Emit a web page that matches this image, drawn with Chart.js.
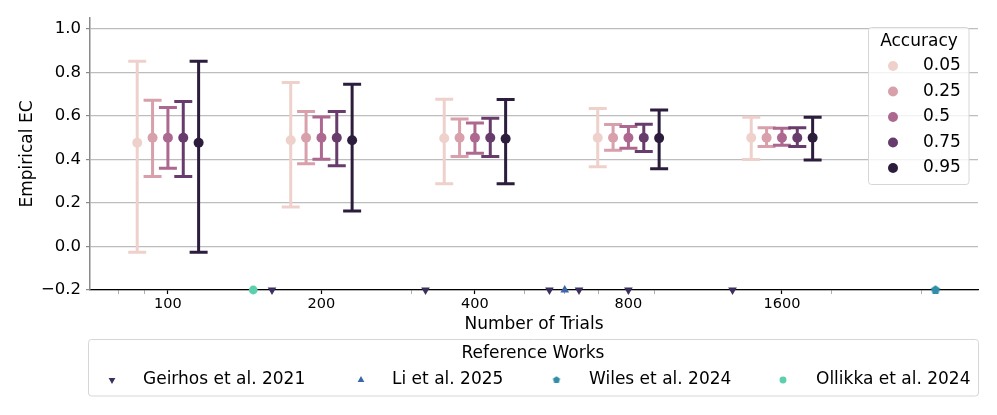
<!DOCTYPE html>
<html>
<head>
<meta charset="utf-8">
<script src="https://cdn.jsdelivr.net/npm/chart.js@4.4.1/dist/chart.umd.min.js"></script>
<style>
  html,body{margin:0;padding:0;background:#fff;}
</style>
</head>
<body>
<canvas id="chart" width="997" height="415"></canvas>
<script>
// Number of trials (x categories) and accuracy levels (hue)
const trials = [100, 200, 400, 800, 1600];
const accuracyLevels = ["0.05", "0.25", "0.5", "0.75", "0.95"];

// mean empirical EC per accuracy level
const mean05 = [0.477, 0.488, 0.497, 0.500, 0.500];
const mean25 = [0.500, 0.500, 0.500, 0.500, 0.500];
const mean50 = [0.500, 0.500, 0.500, 0.500, 0.500];
const mean75 = [0.500, 0.500, 0.500, 0.500, 0.500];
const mean95 = [0.477, 0.488, 0.495, 0.498, 0.500];

// error bar lower / upper ends
const lo05 = [-0.026, 0.182, 0.288, 0.366, 0.400];
const hi05 = [0.851, 0.754, 0.677, 0.634, 0.594];
const lo25 = [0.322, 0.380, 0.414, 0.442, 0.460];
const hi25 = [0.672, 0.620, 0.586, 0.560, 0.546];
const lo50 = [0.360, 0.401, 0.429, 0.451, 0.465];
const hi50 = [0.639, 0.595, 0.568, 0.551, 0.543];
const lo75 = [0.322, 0.371, 0.414, 0.437, 0.460];
const hi75 = [0.666, 0.620, 0.589, 0.562, 0.546];
const lo95 = [-0.026, 0.163, 0.288, 0.357, 0.398];
const hi95 = [0.851, 0.746, 0.676, 0.627, 0.594];

// reference works: trial counts, drawn on the bottom of the axis
const refNames = ["Geirhos et al. 2021", "Li et al. 2025", "Wiles et al. 2024", "Ollikka et al. 2024"];
const geirhosTrials = [160, 320, 560, 640, 800, 1280];
const liTrials = [600];
const wilesTrials = [3200];
const ollikkaTrials = [147];
const refLevel = -0.2;

// ticks
const xMinorTicks = [80, 90, 300, 500, 600, 700, 900, 2000, 3000];
const yTicks = [-0.2, 0.0, 0.2, 0.4, 0.6, 0.8, 1.0];

// colours
const accColors = ["#efd1cc", "#d8a0ab", "#ad6890", "#673c6c", "#2c1d3d"];
const refColors = ["#3b2f5e", "#3b66ab", "#2f8fa8", "#5ccfac"];

Chart.defaults.font.family = "DejaVu Sans";
Chart.defaults.color = "#000";

function pentagon(r, color){
  const c = document.createElement("canvas");
  const s = Math.ceil(r * 2) + 2;
  c.width = s; c.height = s;
  const g = c.getContext("2d");
  g.fillStyle = color;
  g.beginPath();
  for(let i = 0; i < 5; i++){
    const a = -Math.PI / 2 + i * 2 * Math.PI / 5;
    const px = s / 2 + r * Math.cos(a), py = s / 2 + r * Math.sin(a);
    if(i) g.lineTo(px, py); else g.moveTo(px, py);
  }
  g.closePath();
  g.fill();
  return c;
}

const means = [mean05, mean25, mean50, mean75, mean95];
const lows = [lo05, lo25, lo50, lo75, lo95];
const highs = [hi05, hi25, hi50, hi75, hi95];

// dodge the hue levels a little around each trial count (log2 offset)
const accDatasets = accuracyLevels.map((lvl, k) => ({
  label: lvl,
  data: trials.map((t, j) => ({x: t * Math.pow(2, (k - 2) * 0.1), y: means[k][j]})),
  lo: lows[k],
  hi: highs[k],
  backgroundColor: accColors[k],
  pointBackgroundColor: accColors[k],
  pointRadius: 5,
  pointHoverRadius: 5,
  pointBorderWidth: 0,
  showLine: false,
  order: 10 - k
}));

const refSets = [geirhosTrials, liTrials, wilesTrials, ollikkaTrials];
const refStyles = [
  {pointStyle: "triangle", rotation: 180, radius: 5},
  {pointStyle: "triangle", rotation: 0, radius: 5},
  {pointStyle: pentagon(4.8, refColors[2]), rotation: 0, radius: 5},
  {pointStyle: "circle", rotation: 0, radius: 4.4}
];
const refDatasets = refNames.map((name, i) => ({
  label: name,
  data: refSets[i].map(t => ({x: t, y: refLevel})),
  pointStyle: refStyles[i].pointStyle,
  pointRotation: refStyles[i].rotation,
  pointRadius: refStyles[i].radius,
  pointHoverRadius: refStyles[i].radius,
  pointBackgroundColor: refColors[i],
  pointBorderWidth: 0,
  showLine: false,
  clip: false,
  order: 0
}));

// error bars drawn just before each accuracy dataset
const errorBars = {
  id: "errorBars",
  beforeDatasetDraw(chart, args){
    const ds = chart.data.datasets[args.index];
    if(!ds.lo) return;
    const ctx = chart.ctx, xs = chart.scales.x, ys = chart.scales.y;
    ctx.save();
    ctx.strokeStyle = ds.backgroundColor;
    ctx.lineWidth = 3;
    ds.data.forEach((p, j) => {
      const px = xs.getPixelForValue(p.x);
      const top = ys.getPixelForValue(ds.hi[j]);
      const bot = ys.getPixelForValue(ds.lo[j]);
      ctx.beginPath();
      ctx.moveTo(px, top); ctx.lineTo(px, bot);
      ctx.moveTo(px - 9, top); ctx.lineTo(px + 9, top);
      ctx.moveTo(px - 9, bot); ctx.lineTo(px + 9, bot);
      ctx.stroke();
    });
    ctx.restore();
  }
};

function frame(ctx, x, y, w, h, r){
  ctx.beginPath();
  ctx.moveTo(x + r, y);
  ctx.arcTo(x + w, y, x + w, y + h, r);
  ctx.arcTo(x + w, y + h, x, y + h, r);
  ctx.arcTo(x, y + h, x, y, r);
  ctx.arcTo(x, y, x + w, y, r);
  ctx.closePath();
  ctx.fillStyle = "rgba(255,255,255,0.8)";
  ctx.fill();
  ctx.strokeStyle = "#d6d6d6";
  ctx.lineWidth = 1;
  ctx.stroke();
}

// the two legends: Accuracy (inside) and Reference Works (below)
const legends = {
  id: "legends",
  afterDraw(chart){
    const ctx = chart.ctx;
    ctx.save();
    ctx.textBaseline = "middle";
    ctx.fillStyle = "#000";

    frame(ctx, 868.5, 27.5, 100.5, 157, 3);
    ctx.font = "17px 'DejaVu Sans'";
    ctx.textAlign = "center";
    ctx.fillStyle = "#000";
    ctx.fillText("Accuracy", 919, 42);
    accuracyLevels.forEach((lvl, k) => {
      const yy = 66 + k * 25.5;
      ctx.fillStyle = accColors[k];
      Chart.helpers.drawPoint(ctx, {pointStyle: "circle", radius: 5, borderWidth: 0, rotation: 0}, 893, yy);
      ctx.fillStyle = "#000";
      ctx.textAlign = "left";
      ctx.fillText(lvl, 923, yy);
    });

    frame(ctx, 88.5, 339.5, 890, 56.5, 3);
    ctx.fillStyle = "#000";
    ctx.textAlign = "center";
    ctx.fillText("Reference Works", 533, 354);
    const markX = [112, 361, 556.5, 783];
    const textX = [143, 392, 589, 816];
    refNames.forEach((name, i) => {
      const st = refStyles[i];
      ctx.fillStyle = refColors[i];
      const ps = i === 2 ? pentagon(3.8, refColors[2]) : st.pointStyle;
      Chart.helpers.drawPoint(ctx, {pointStyle: ps, radius: st.radius * 0.78, borderWidth: 0, rotation: st.rotation}, markX[i], 380);
      ctx.fillStyle = "#000";
      ctx.textAlign = "left";
      ctx.fillText(name, textX[i], 380);
    });
    ctx.restore();
  }
};

new Chart(document.getElementById("chart"), {
  type: "scatter",
  data: {datasets: accDatasets.concat(refDatasets)},
  options: {
    responsive: false,
    animation: false,
    layout: {padding: {left: 0, right: 19, top: 18, bottom: 76}},
    plugins: {legend: {display: false}, tooltip: {enabled: false}},
    scales: {
      x: {
        type: "logarithmic",
        min: 70.34,
        max: 3878,
        afterBuildTicks(scale){
          scale.ticks = trials.map(v => ({value: v}))
            .concat(xMinorTicks.map(v => ({value: v, minor: true})))
            .sort((a, b) => a.value - b.value);
        },
        afterFit(scale){ scale.height = 49; },
        ticks: {
          autoSkip: false,
          maxRotation: 0,
          padding: 2,
          font: {size: 14.5},
          color: "#000",
          callback: v => trials.includes(v) ? String(v) : ""
        },
        grid: {
          drawOnChartArea: false,
          tickLength: 4,
          tickColor: c => (c.tick && c.tick.minor) ? "#9a9a9a" : "#000",
          tickWidth: c => (c.tick && c.tick.minor) ? 0.8 : 1.2
        },
        border: {color: "#000", width: 1.2},
        title: {display: true, text: "Number of Trials", font: {size: 17}, color: "#000", padding: {top: 0, bottom: 4}}
      },
      y: {
        min: -0.2,
        max: 1.05,
        afterBuildTicks(scale){ scale.ticks = yTicks.map(v => ({value: v})); },
        afterFit(scale){ scale.width = 90; },
        ticks: {
          padding: 5,
          font: {size: 16.5},
          color: "#000",
          callback: v => (v < -1e-9 ? "\u2212" : "") + Math.abs(v).toFixed(1)
        },
        grid: {color: "#bdbdbd", lineWidth: 1.2, tickLength: 4, tickColor: "#888"},
        border: {color: "#8a8a8a", width: 1.5},
        title: {display: true, text: "Empirical EC", font: {size: 17}, color: "#000", padding: {top: 17, bottom: 0}}
      }
    }
  },
  plugins: [errorBars, legends]
});
</script>
</body>
</html>
